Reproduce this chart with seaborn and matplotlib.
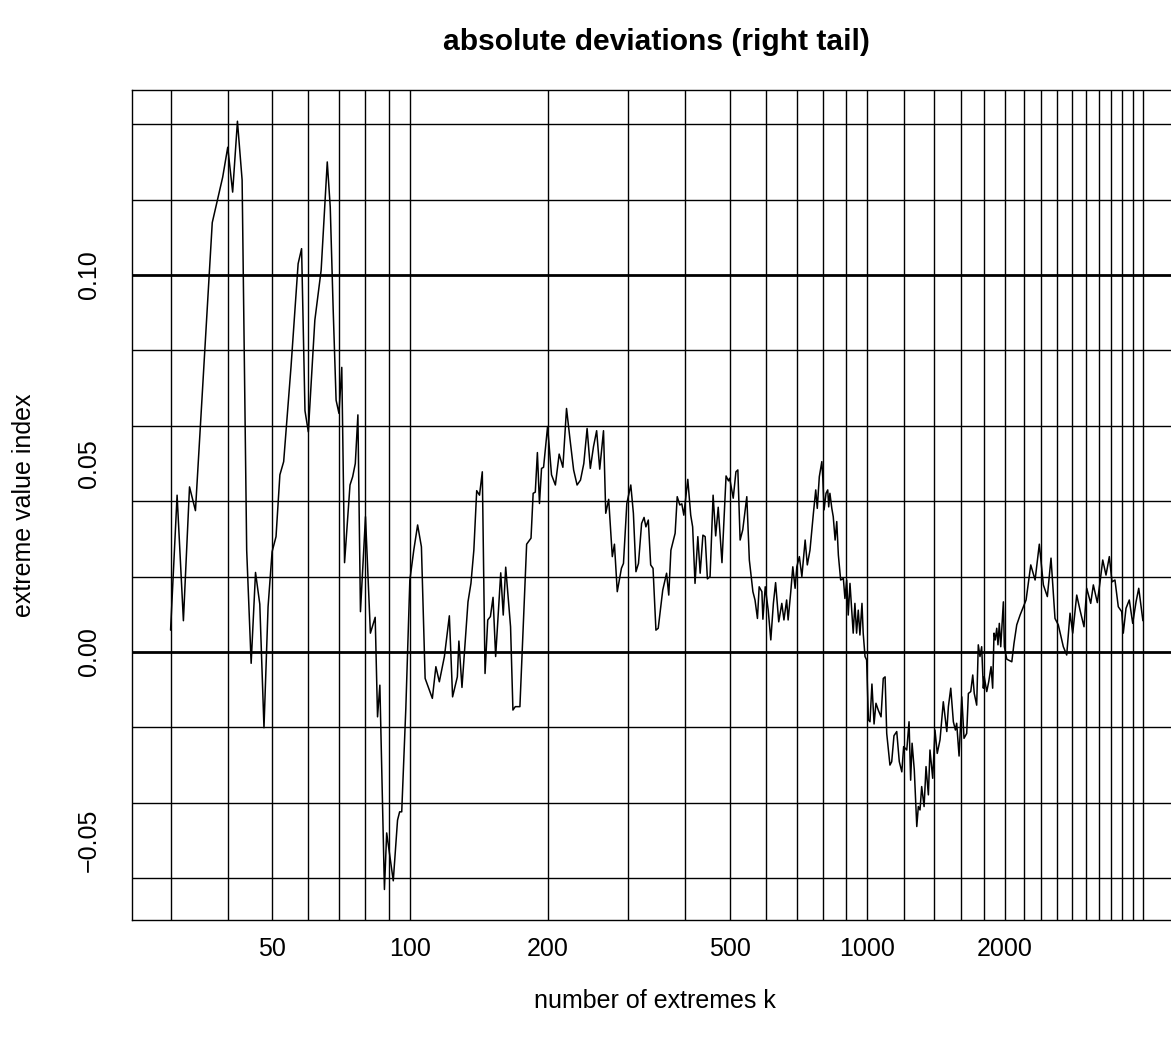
import matplotlib
matplotlib.use("Agg")
import numpy as np
import pandas as pd
import matplotlib.pyplot as plt
import seaborn as sns


# number of extremes k and the estimated extreme value index
k = [30, 31, 32, 33, 34, 37, 38, 39, 40, 41, 42, 43, 44, 45, 46, 47, 48, 49,
     50, 51, 52, 53, 55, 57, 58, 59, 60, 62, 64, 66, 67, 68, 69, 70, 71, 72,
     74, 75, 76, 77, 78, 80, 82, 84, 85, 86, 88, 89, 92, 94, 95, 96, 98,
     100, 102, 104, 106, 108, 112, 114, 116, 119, 122, 124, 127, 128, 130,
     134, 136, 138, 140, 142, 144, 146, 148, 150, 152, 154, 158, 160, 162,
     166, 168, 170, 174, 180, 184, 186, 188, 190, 192, 194, 196,
     200, 204, 208, 212, 216, 220, 224, 228, 232, 236, 240, 244, 248, 252,
     256, 260, 265, 268, 272, 277, 280, 284, 290, 293, 298,
     304, 308, 312, 316, 321, 325, 328, 332, 336, 340, 345, 349, 357, 364,
     368, 372, 380, 384, 389, 393, 397,
     405, 411, 415, 420, 426, 431, 437, 442, 447, 453, 460, 466, 472, 481,
     491, 497, 500, 509, 516, 521, 527, 534, 545, 552, 562, 568, 575, 580,
     588, 591, 598, 607, 615, 623, 630, 640, 650, 657, 666, 671, 680, 687,
     695, 701, 710, 719, 731, 739, 749, 762, 771, 777, 785, 795, 799,
     804, 812, 819, 823, 828, 836, 842, 850, 857, 864, 874, 886, 893,
     901, 908, 916, 924, 931, 939, 947, 955, 963, 973, 979, 988, 996,
     1005, 1013, 1023, 1034, 1044, 1056, 1071, 1083, 1093, 1102, 1120, 1130,
     1143, 1159, 1174, 1189, 1200, 1219, 1233, 1243, 1252, 1266, 1282, 1292,
     1303, 1314, 1330, 1343, 1359, 1370, 1389, 1405, 1421, 1441, 1465, 1491,
     1503, 1521, 1541, 1557, 1567, 1586, 1608, 1626, 1648, 1662, 1682, 1699,
     1712, 1733, 1747, 1762, 1777, 1792, 1800, 1823, 1841, 1863, 1878, 1891,
     1903, 1917, 1929, 1942, 1956, 1969, 1982, 1992,
     2016, 2068, 2091, 2120, 2156, 2192, 2222, 2247, 2275, 2325, 2375, 2424,
     2473, 2519, 2570, 2613, 2680, 2726, 2772, 2810, 2867, 2915, 2974,
     3015, 3076, 3117, 3180, 3224, 3268, 3322, 3378, 3424, 3475, 3534, 3595,
     3624, 3674, 3735, 3800, 3864, 3917, 4000]

evi = [0.0058, 0.0416, 0.0083, 0.0438, 0.0375, 0.1139, 0.1200, 0.1260, 0.1339,
       0.1220, 0.1408, 0.1252, 0.0270, -0.0030, 0.0211, 0.0127, -0.0201, 0.0120,
       0.0266, 0.0306, 0.0470, 0.0505, 0.0757, 0.1030, 0.1070, 0.0640, 0.0584,
       0.0880, 0.1013, 0.1300, 0.1180, 0.0907, 0.0668, 0.0633, 0.0755, 0.0237,
       0.0443, 0.0465, 0.0500, 0.0629, 0.0107, 0.0359, 0.0050, 0.0092, -0.0172,
       -0.0088, -0.0630, -0.0480, -0.0607, -0.0446, -0.0424, -0.0424, -0.0150,
       0.0190, 0.0270, 0.0337, 0.0279, -0.0070, -0.0123, -0.0039, -0.0079,
       -0.0012, 0.0096, -0.0119, -0.0066, 0.0029, -0.0094,
       0.0133, 0.0182, 0.0270, 0.0428, 0.0416, 0.0478, -0.0057, 0.0085, 0.0094,
       0.0145, -0.0012, 0.0210, 0.0098, 0.0225,
       0.0067, -0.0154, -0.0145, -0.0145, 0.0286, 0.0302, 0.0421, 0.0424,
       0.0529, 0.0394, 0.0487, 0.0490,
       0.0598, 0.0470, 0.0443, 0.0525, 0.0490, 0.0646, 0.0562, 0.0483, 0.0443,
       0.0456, 0.0500, 0.0593, 0.0487, 0.0545,
       0.0587, 0.0485, 0.0587, 0.0368, 0.0405, 0.0253, 0.0286, 0.0160, 0.0222,
       0.0235, 0.0394,
       0.0443, 0.0368, 0.0213, 0.0235, 0.0341, 0.0357, 0.0332, 0.0350, 0.0231,
       0.0222, 0.0058, 0.0063, 0.0164, 0.0209,
       0.0151, 0.0270, 0.0315, 0.0412, 0.0390, 0.0393, 0.0363,
       0.0458, 0.0363, 0.0332, 0.0182, 0.0306, 0.0209, 0.0310, 0.0306, 0.0194,
       0.0200, 0.0416, 0.0308, 0.0384, 0.0237,
       0.0467, 0.0454, 0.0461, 0.0408, 0.0478, 0.0483, 0.0297, 0.0324, 0.0412,
       0.0244, 0.0160, 0.0138, 0.0089, 0.0173,
       0.0160, 0.0087, 0.0173, 0.0111, 0.0032, 0.0129, 0.0184, 0.0080, 0.0129,
       0.0085, 0.0138, 0.0085, 0.0160, 0.0226,
       0.0169, 0.0226, 0.0253, 0.0200, 0.0297, 0.0231, 0.0270, 0.0368, 0.0430,
       0.0381, 0.0465, 0.0505, 0.0461,
       0.0377, 0.0421, 0.0430, 0.0385, 0.0421, 0.0381, 0.0359, 0.0297, 0.0346,
       0.0257, 0.0191, 0.0195, 0.0142,
       0.0191, 0.0098, 0.0182, 0.0111, 0.0050, 0.0129, 0.0050, 0.0111, 0.0045,
       0.0129, 0.0050, -0.0012, -0.0021,
       -0.0180, -0.0185, -0.0085, -0.0191, -0.0136, -0.0154, -0.0172, -0.0070,
       -0.0066, -0.0216, -0.0300, -0.0291,
       -0.0222, -0.0211, -0.0291, -0.0318, -0.0251, -0.0260, -0.0185, -0.0340,
       -0.0242, -0.0313, -0.0463, -0.0410,
       -0.0419, -0.0357, -0.0410, -0.0304, -0.0379, -0.0260, -0.0335, -0.0207,
       -0.0269, -0.0233, -0.0132, -0.0211,
       -0.0145, -0.0096, -0.0185, -0.0207, -0.0189, -0.0276, -0.0119, -0.0229,
       -0.0216, -0.0110, -0.0105, -0.0061,
       -0.0110, -0.0141, 0.0019, -0.0012, 0.0014, -0.0096, -0.0066, -0.0105,
       -0.0079, -0.0039, -0.0096, 0.0050,
       0.0032, 0.0063, 0.0019, 0.0076, 0.0014, 0.0072, 0.0133, 0.0014,
       -0.0019, -0.0026, 0.0023, 0.0072, 0.0098, 0.0120, 0.0138, 0.0182, 0.0231,
       0.0191, 0.0286, 0.0178,
       0.0147, 0.0249, 0.0089, 0.0072, 0.0014, -0.0008, 0.0103, 0.0050, 0.0151,
       0.0111, 0.0067,
       0.0169, 0.0129, 0.0178, 0.0131, 0.0186, 0.0244, 0.0204, 0.0253, 0.0186,
       0.0191, 0.0120, 0.0107,
       0.0050, 0.0116, 0.0138, 0.0076, 0.0133, 0.0169, 0.0083]

# axis ticks and reference lines
xticks = [50, 100, 200, 500, 1000, 2000]
yticks = [-0.05, 0.0, 0.05, 0.10]
ytick_labels = ["\u22120.05", "0.00", "0.05", "0.10"]
vgrid = list(range(30, 100, 10)) + list(range(100, 1000, 100)) + list(range(1000, 4001, 200))
hgrid = [-0.06, -0.04, -0.02, 0.02, 0.04, 0.06, 0.08, 0.12, 0.14]
hbold = [0.0, 0.10]

df = pd.DataFrame({"k": k, "evi": evi})

sns.set_style("white")
plt.rcParams['font.family'] = ['Liberation Sans', 'DejaVu Sans']

fig = plt.figure(figsize=(11.71, 10.49), dpi=100)
# plot region runs past the right edge of the picture, as in the original
ax = fig.add_axes([0.1124, 0.1226, 0.8968, 0.7913])
ax.set_xscale("log")

for g in vgrid:
    ax.axvline(g, color="black", lw=1.0, zorder=1)
for g in hgrid:
    ax.axhline(g, color="black", lw=1.0, zorder=1)
for g in hbold:
    ax.axhline(g, color="black", lw=2.0, zorder=1)

sns.lineplot(data=df, x="k", y="evi", ax=ax, color="black", linewidth=1.1,
             estimator=None, sort=False, zorder=3)

ax.set_xlim(24.66, 4864)
ax.set_ylim(-0.0712, 0.149)

ax.minorticks_off()
ax.set_xticks(xticks, labels=[str(t) for t in xticks])
ax.set_yticks(yticks, labels=ytick_labels)
ax.tick_params(axis="both", direction="out", length=10, width=1.0,
               color="black", labelsize=18, labelcolor="black")
ax.tick_params(axis="x", pad=2)
ax.tick_params(axis="y", pad=12)
for lab in ax.get_yticklabels():
    lab.set_rotation(90)
    lab.set_va("center")

for s in ax.spines.values():
    s.set_color("black")
    s.set_linewidth(1.0)

ax.set_xlabel("number of extremes k", fontsize=18, va="center", color="black")
ax.set_ylabel("extreme value index", fontsize=18, va="center", ha="center",
              color="black")
ax.xaxis.set_label_coords(0.4984, -0.097)
ax.yaxis.set_label_coords(-0.1024, 0.5)
ax.set_title("absolute deviations (right tail)", fontsize=21.6,
             fontweight="bold", y=1.058, va="center", pad=0, color="black")

plt.savefig("out.png", dpi=100)
